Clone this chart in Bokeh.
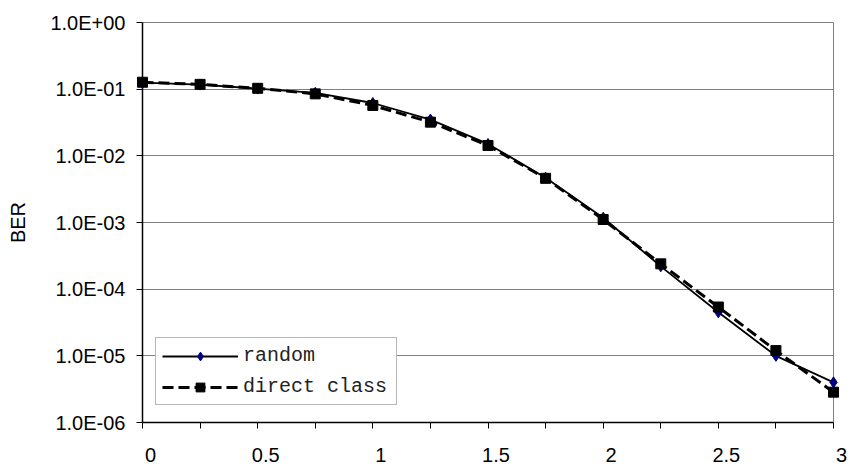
from bokeh.plotting import figure
from bokeh.models import Range1d, FixedTicker, Legend, LegendItem
from bokeh.core.properties import value
from bokeh.embed import file_html
from bokeh.resources import INLINE

# Eb/N0 sample positions and bit error rates for the two schemes
snr = [0.0, 0.25, 0.5, 0.75, 1.0, 1.25, 1.5, 1.75, 2.0, 2.25, 2.5, 2.75, 3.0]
ber_random = [0.125, 0.117, 0.102, 0.088, 0.062, 0.035, 0.0151, 0.0047,
              0.00118, 0.00022, 0.000045, 0.0000100, 0.0000040]
ber_direct = [0.127, 0.118, 0.103, 0.085, 0.057, 0.032, 0.0143, 0.0046,
              0.00111, 0.00024, 0.000054, 0.0000120, 0.00000285]

series_names = ["random", "direct class"]

x_tick_values = [0.0, 0.5, 1.0, 1.5, 2.0, 2.5, 3.0]
x_tick_labels = ["0", "0.5", "1", "1.5", "2", "2.5", "3"]

y_tick_values = [1e-6, 1e-5, 1e-4, 1e-3, 1e-2, 1e-1, 1.0]
y_tick_labels = ["1.0E-06", "1.0E-05", "1.0E-04", "1.0E-03",
                 "1.0E-02", "1.0E-01", "1.0E+00"]

FONT = "Liberation Sans"
GRID = "#808080"
Y_MIN, Y_MAX = 1e-6, 1.0

p = figure(width=850, height=466,
           x_range=Range1d(0, 3), y_range=Range1d(Y_MIN, Y_MAX),
           y_axis_type="log",
           output_backend="svg", toolbar_location=None,
           min_border_left=142, min_border_right=17,
           min_border_top=22, min_border_bottom=44,
           background_fill_color="white", border_fill_color="white")
p.outline_line_color = GRID
p.outline_line_width = 1

# bottom axis: line and a tick mark at every sample position, no labels
xa = p.xaxis[0]
xa.ticker = FixedTicker(ticks=[], minor_ticks=snr)
xa.axis_line_color = "black"
xa.axis_line_width = 1.5
xa.minor_tick_line_color = "black"
xa.minor_tick_out = 6
xa.minor_tick_in = 0
xa.major_tick_line_color = None

# bottom labels sit a little to the right of their tick marks
p.text(x=x_tick_values, y=[Y_MIN] * len(x_tick_values), text=x_tick_labels,
       x_offset=8, y_offset=32,
       text_font=value(FONT), text_font_size="20px", text_color="black",
       text_align="center", text_baseline="middle", level="overlay")

# left axis
ya = p.yaxis[0]
ya.ticker = FixedTicker(ticks=y_tick_values, minor_ticks=[])
ya.major_label_overrides = dict(zip(y_tick_values, y_tick_labels))
ya.axis_line_color = "black"
ya.axis_line_width = 1.5
ya.major_tick_line_color = "black"
ya.minor_tick_line_color = None
ya.major_tick_out = 6
ya.major_tick_in = 0
ya.major_label_standoff = 11
ya.major_label_text_font = FONT
ya.major_label_text_font_size = "20px"
ya.major_label_text_color = "black"
ya.axis_label = "BER"
ya.axis_label_text_font = FONT
ya.axis_label_text_font_size = "20px"
ya.axis_label_text_font_style = "normal"
ya.axis_label_text_color = "black"
ya.axis_label_standoff = 18

p.xgrid.visible = False
p.ygrid.ticker = FixedTicker(ticks=y_tick_values, minor_ticks=[])
p.ygrid.grid_line_color = GRID
p.ygrid.grid_line_width = 1

# series
r1_line = p.line(snr, ber_random, line_color="black", line_width=1.8)
r2_line = p.line(snr, ber_direct, line_color="black", line_width=3,
                 line_dash="11 5")
r1_pts = p.scatter(snr, ber_random, marker="diamond", size=11,
                   fill_color="#000080", line_color="#000080", level="overlay")
r2_pts = p.scatter(snr, ber_direct, marker="square", size=10,
                   fill_color="black", line_color="black", level="overlay")

legend = Legend(items=[LegendItem(label=series_names[0], renderers=[r1_line, r1_pts]),
                       LegendItem(label=series_names[1], renderers=[r2_line, r2_pts])],
                location=(13, 17),
                border_line_color="#707070", border_line_width=1,
                background_fill_color="white", background_fill_alpha=1.0,
                label_text_font="Liberation Mono",
                label_text_font_size="20px",
                label_text_color="#222222",
                glyph_width=76, glyph_height=22,
                label_height=22, label_width=147,
                label_standoff=5, spacing=8, padding=6, margin=0)
p.add_layout(legend)

open("out.html", "w").write(file_html(p, INLINE))
